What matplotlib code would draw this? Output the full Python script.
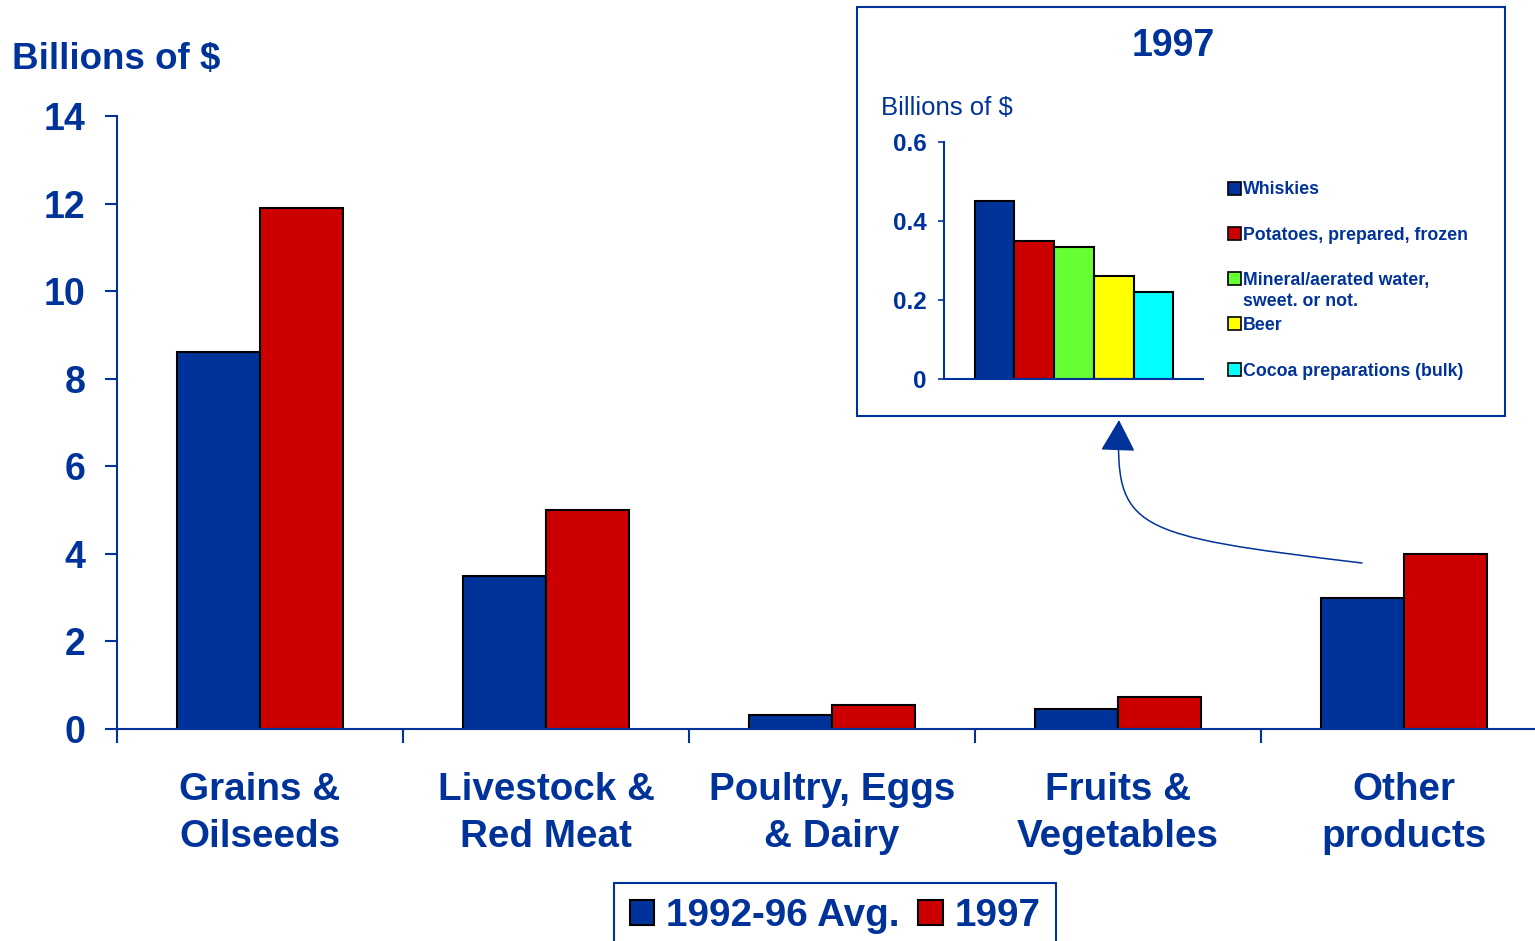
import numpy as np
import matplotlib
matplotlib.use('Agg')
import matplotlib.pyplot as plt
from matplotlib.patches import Rectangle, FancyArrowPatch
from matplotlib.path import Path

# Data
categories = ['Grains &\nOilseeds', 'Livestock &\nRed Meat', 'Poultry, Eggs\n& Dairy',
              'Fruits &\nVegetables', 'Other\nproducts']
avg_1992_96 = [8.6, 3.5, 0.32, 0.46, 3.0]
exports_1997 = [11.9, 5.0, 0.55, 0.73, 4.0]
series_labels = ['1992-96 Avg.', '1997']

other_items = ['Whiskies', 'Potatoes, prepared, frozen', 'Mineral/aerated water,\nsweet. or not.',
               'Beer', 'Cocoa preparations (bulk)']
other_values = [0.45, 0.35, 0.335, 0.26, 0.22]
other_colors = ['#003399', '#CC0000', '#66FF33', '#FFFF00', '#00FFFF']

NAVY = '#003399'
RED = '#CC0000'

plt.rcParams['font.family'] = ['Liberation Sans', 'DejaVu Sans']
plt.rcParams['font.weight'] = 'bold'

W, H = 1535, 941
fig = plt.figure(figsize=(W / 100, H / 100), dpi=100)


def fx(px):
    return px / W


def fy(py):
    return 1 - py / H


# Main chart
ax = fig.add_axes([fx(117), fy(729), fx(1535) - fx(117), fy(116) - fy(729)])
x = np.arange(len(categories))
w = 0.29
ax.bar(x - w / 2, avg_1992_96, w, color=NAVY, edgecolor='black', linewidth=1.5, label=series_labels[0])
ax.bar(x + w / 2, exports_1997, w, color=RED, edgecolor='black', linewidth=1.5, label=series_labels[1])
ax.set_yticks(range(0, 15, 2))
ax.set_xticks(np.arange(-0.5, 5, 1))
ax.set_xticklabels([])
ax.set_xticks(x, minor=True)
ax.set_xticklabels(categories, minor=True, fontsize=27.8, color=NAVY, fontweight='bold', linespacing=1.4)
ax.set_xlim(-0.5, -0.5 + 1418 / 286)
ax.set_ylim(0, 14)
ax.tick_params(axis='x', which='major', direction='out', length=10, width=1.5, color=NAVY)
ax.tick_params(axis='x', which='minor', length=0, pad=31)
ax.tick_params(axis='y', direction='out', length=8.5, width=1.5, color=NAVY, pad=14,
               labelsize=27, labelcolor=NAVY)
for lab in ax.get_yticklabels():
    lab.set_fontweight('bold')
for s in ['top', 'right']:
    ax.spines[s].set_visible(False)
for s in ['left', 'bottom']:
    ax.spines[s].set_color(NAVY)
    ax.spines[s].set_linewidth(1.5)

fig.text(fx(12), fy(59), 'Billions of $', fontsize=26.5, color=NAVY, fontweight='bold', va='center')

handles, labels = ax.get_legend_handles_labels()
leg = fig.legend(handles, labels, loc='upper center', bbox_to_anchor=(fx(835), fy(883)), ncol=2,
                 prop={'size': 27.8, 'weight': 'bold'}, labelcolor=NAVY, fancybox=False,
                 edgecolor=NAVY, borderpad=0.4, handlelength=0.63, handleheight=0.63,
                 handletextpad=0.3, columnspacing=0.5, borderaxespad=0, framealpha=1)
leg.get_frame().set_linewidth(1.5)

# Inset box
fig.patches.append(Rectangle((fx(857), fy(416)), fx(1505) - fx(857), fy(7) - fy(416),
                             transform=fig.transFigure, fill=False, edgecolor=NAVY, linewidth=1.5))
fig.text(fx(1173), fy(46), '1997', fontsize=27, color=NAVY, fontweight='bold', ha='center', va='center')
fig.text(fx(881), fy(108), 'Billions of $', fontsize=18.5, color=NAVY, fontweight='normal', va='center')

ax2 = fig.add_axes([fx(944), fy(379), fx(1203) - fx(944), fy(142) - fy(379)])
xi = np.arange(len(other_items))
ax2.bar(xi, other_values, 1.0, color=other_colors, edgecolor='black', linewidth=1.5)
ax2.set_xticks([])
ax2.set_xlim(-1.275, 5.25)
ax2.set_ylim(0, 0.6)
ax2.set_yticks([0, 0.2, 0.4, 0.6])
ax2.set_yticklabels(['0', '0.2', '0.4', '0.6'])
ax2.tick_params(axis='y', direction='out', length=4.5, width=1.2, color=NAVY, pad=8,
                labelsize=17.5, labelcolor=NAVY)
for lab in ax2.get_yticklabels():
    lab.set_fontweight('bold')
for s in ['top', 'right']:
    ax2.spines[s].set_visible(False)
for s in ['left', 'bottom']:
    ax2.spines[s].set_color(NAVY)
    ax2.spines[s].set_linewidth(1.5)

# Inset legend (one text per line so the first line sits beside the box)
legend_y = [188, 233, 278, 323, 369]
for label, color, yy in zip(other_items, other_colors, legend_y):
    fig.patches.append(Rectangle((fx(1228), fy(yy + 6.5)), fx(13), 13 / H, transform=fig.transFigure,
                                 facecolor=color, edgecolor='black', linewidth=1.2))
    for k, line in enumerate(label.split('\n')):
        fig.text(fx(1243), fy(yy + 6.5 + 22 * k), line, fontsize=12.8, color=NAVY, fontweight='bold',
                 va='baseline', ha='left')

# Curved arrow from "Other products" to inset
pts = [(1362, 563), (1130, 535), (1115, 530), (1119, 420)]
path = Path([(fx(a), fy(b)) for a, b in pts], [Path.MOVETO, Path.CURVE4, Path.CURVE4, Path.CURVE4])
arrow = FancyArrowPatch(path=path, transform=fig.transFigure, arrowstyle='-|>,head_length=1,head_width=0.55',
                        mutation_scale=20, color=NAVY, linewidth=1.1)
fig.patches.append(arrow)

plt.savefig('out.png', dpi=100)
